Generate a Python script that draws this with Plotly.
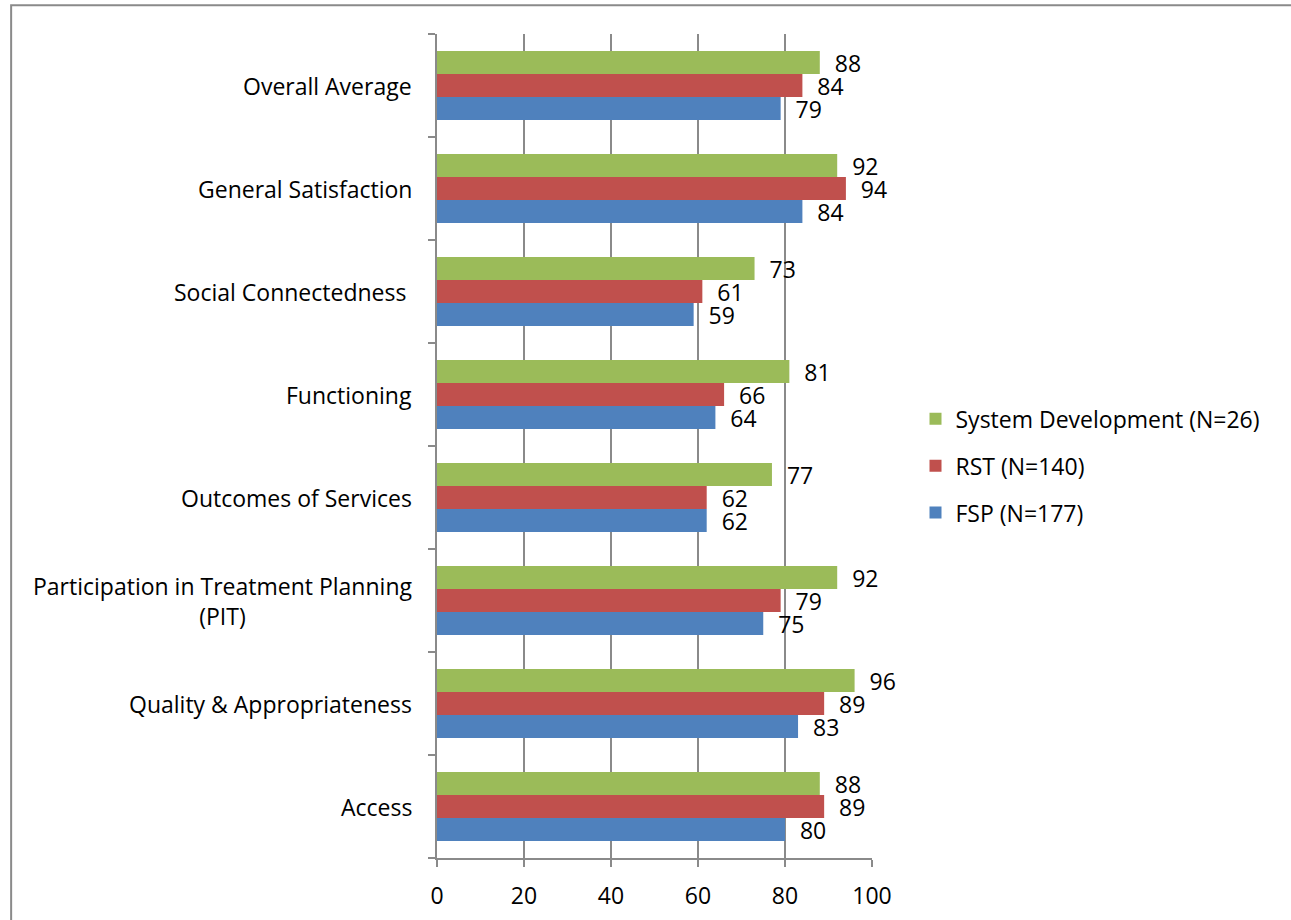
import plotly.graph_objects as go

# Survey domains, listed bottom to top as they appear on the axis
categories = [
    "Access",
    "Quality & Appropriateness",
    "Participation in Treatment Planning<br>(PIT)",
    "Outcomes of Services",
    "Functioning",
    "Social Connectedness\u00a0",
    "General Satisfaction",
    "Overall Average",
]

fsp_values = [80, 83, 75, 62, 64, 59, 84, 79]
rst_values = [89, 89, 79, 62, 66, 61, 94, 84]
sysdev_values = [88, 96, 92, 77, 81, 73, 92, 88]

series_names = ["FSP (N=177)", "RST (N=140)", "System Development (N=26)"]
series_colors = ["#4F81BD", "#C0504D", "#9BBB59"]
legend_ranks = [3, 2, 1]
x_ticks = [0, 20, 40, 60, 80, 100]

FONT = "'Open Sans', sans-serif"
FONT_SIZE = 23
AXIS_GREY = "#8a8a8a"

fig = go.Figure()
for name, vals, color, rank in zip(series_names, [fsp_values, rst_values, sysdev_values],
                                   series_colors, legend_ranks):
    fig.add_trace(go.Bar(
        y=categories,
        x=vals,
        orientation="h",
        name=name,
        legendgroup=name,
        legendrank=rank,
        marker=dict(color=color, line=dict(width=0)),
        text=vals,
        texttemplate="\u00a0\u00a0%{x}",
        textposition="outside",
        textfont=dict(family=FONT, size=FONT_SIZE, color="black"),
        cliponaxis=False,
        constraintext="none",
    ))

# Category labels, right aligned against the axis with centred line wrapping
for cat in categories:
    fig.add_annotation(
        x=0, y=cat, xref="x", yref="y",
        text=cat, showarrow=False,
        xanchor="right", yanchor="middle", align="center",
        xshift=-23,
        font=dict(family=FONT, size=FONT_SIZE, color="black"),
    )

# Outer chart border
fig.add_shape(
    type="rect", xref="paper", yref="paper",
    x0=-0.979, x1=2.0, y0=-1.0, y1=1.035,
    line=dict(color=AXIS_GREY, width=2), layer="below",
)

fig.update_layout(
    width=1291, height=920,
    margin=dict(l=437, r=419, t=34, b=62, autoexpand=False),
    barmode="group",
    bargap=0.33,
    bargroupgap=0,
    plot_bgcolor="white",
    paper_bgcolor="white",
    font=dict(family=FONT, size=FONT_SIZE, color="black"),
    showlegend=True,
    legend=dict(
        x=1.10, y=0.476, xanchor="left", yanchor="middle",
        traceorder="grouped",
        tracegroupgap=14,
        font=dict(family=FONT, size=FONT_SIZE, color="black"),
        itemwidth=30,
        bgcolor="rgba(0,0,0,0)",
    ),
    xaxis=dict(
        range=[0, 100],
        tickvals=x_ticks,
        showgrid=True, gridcolor=AXIS_GREY, gridwidth=1.5,
        zeroline=False,
        showline=True, linecolor=AXIS_GREY, linewidth=1.5,
        ticks="outside", ticklen=7, tickcolor=AXIS_GREY, tickwidth=1.5,
        ticklabelstandoff=10,
        tickfont=dict(family=FONT, size=FONT_SIZE, color="black"),
        fixedrange=True,
    ),
    yaxis=dict(
        categoryorder="array", categoryarray=categories,
        showticklabels=False,
        showgrid=False, zeroline=False,
        showline=True, linecolor=AXIS_GREY, linewidth=1.5,
        ticks="outside", ticklen=7, tickcolor=AXIS_GREY, tickwidth=1.5,
        tickson="boundaries",
        fixedrange=True,
    ),
)

fig.write_html("out.html")
